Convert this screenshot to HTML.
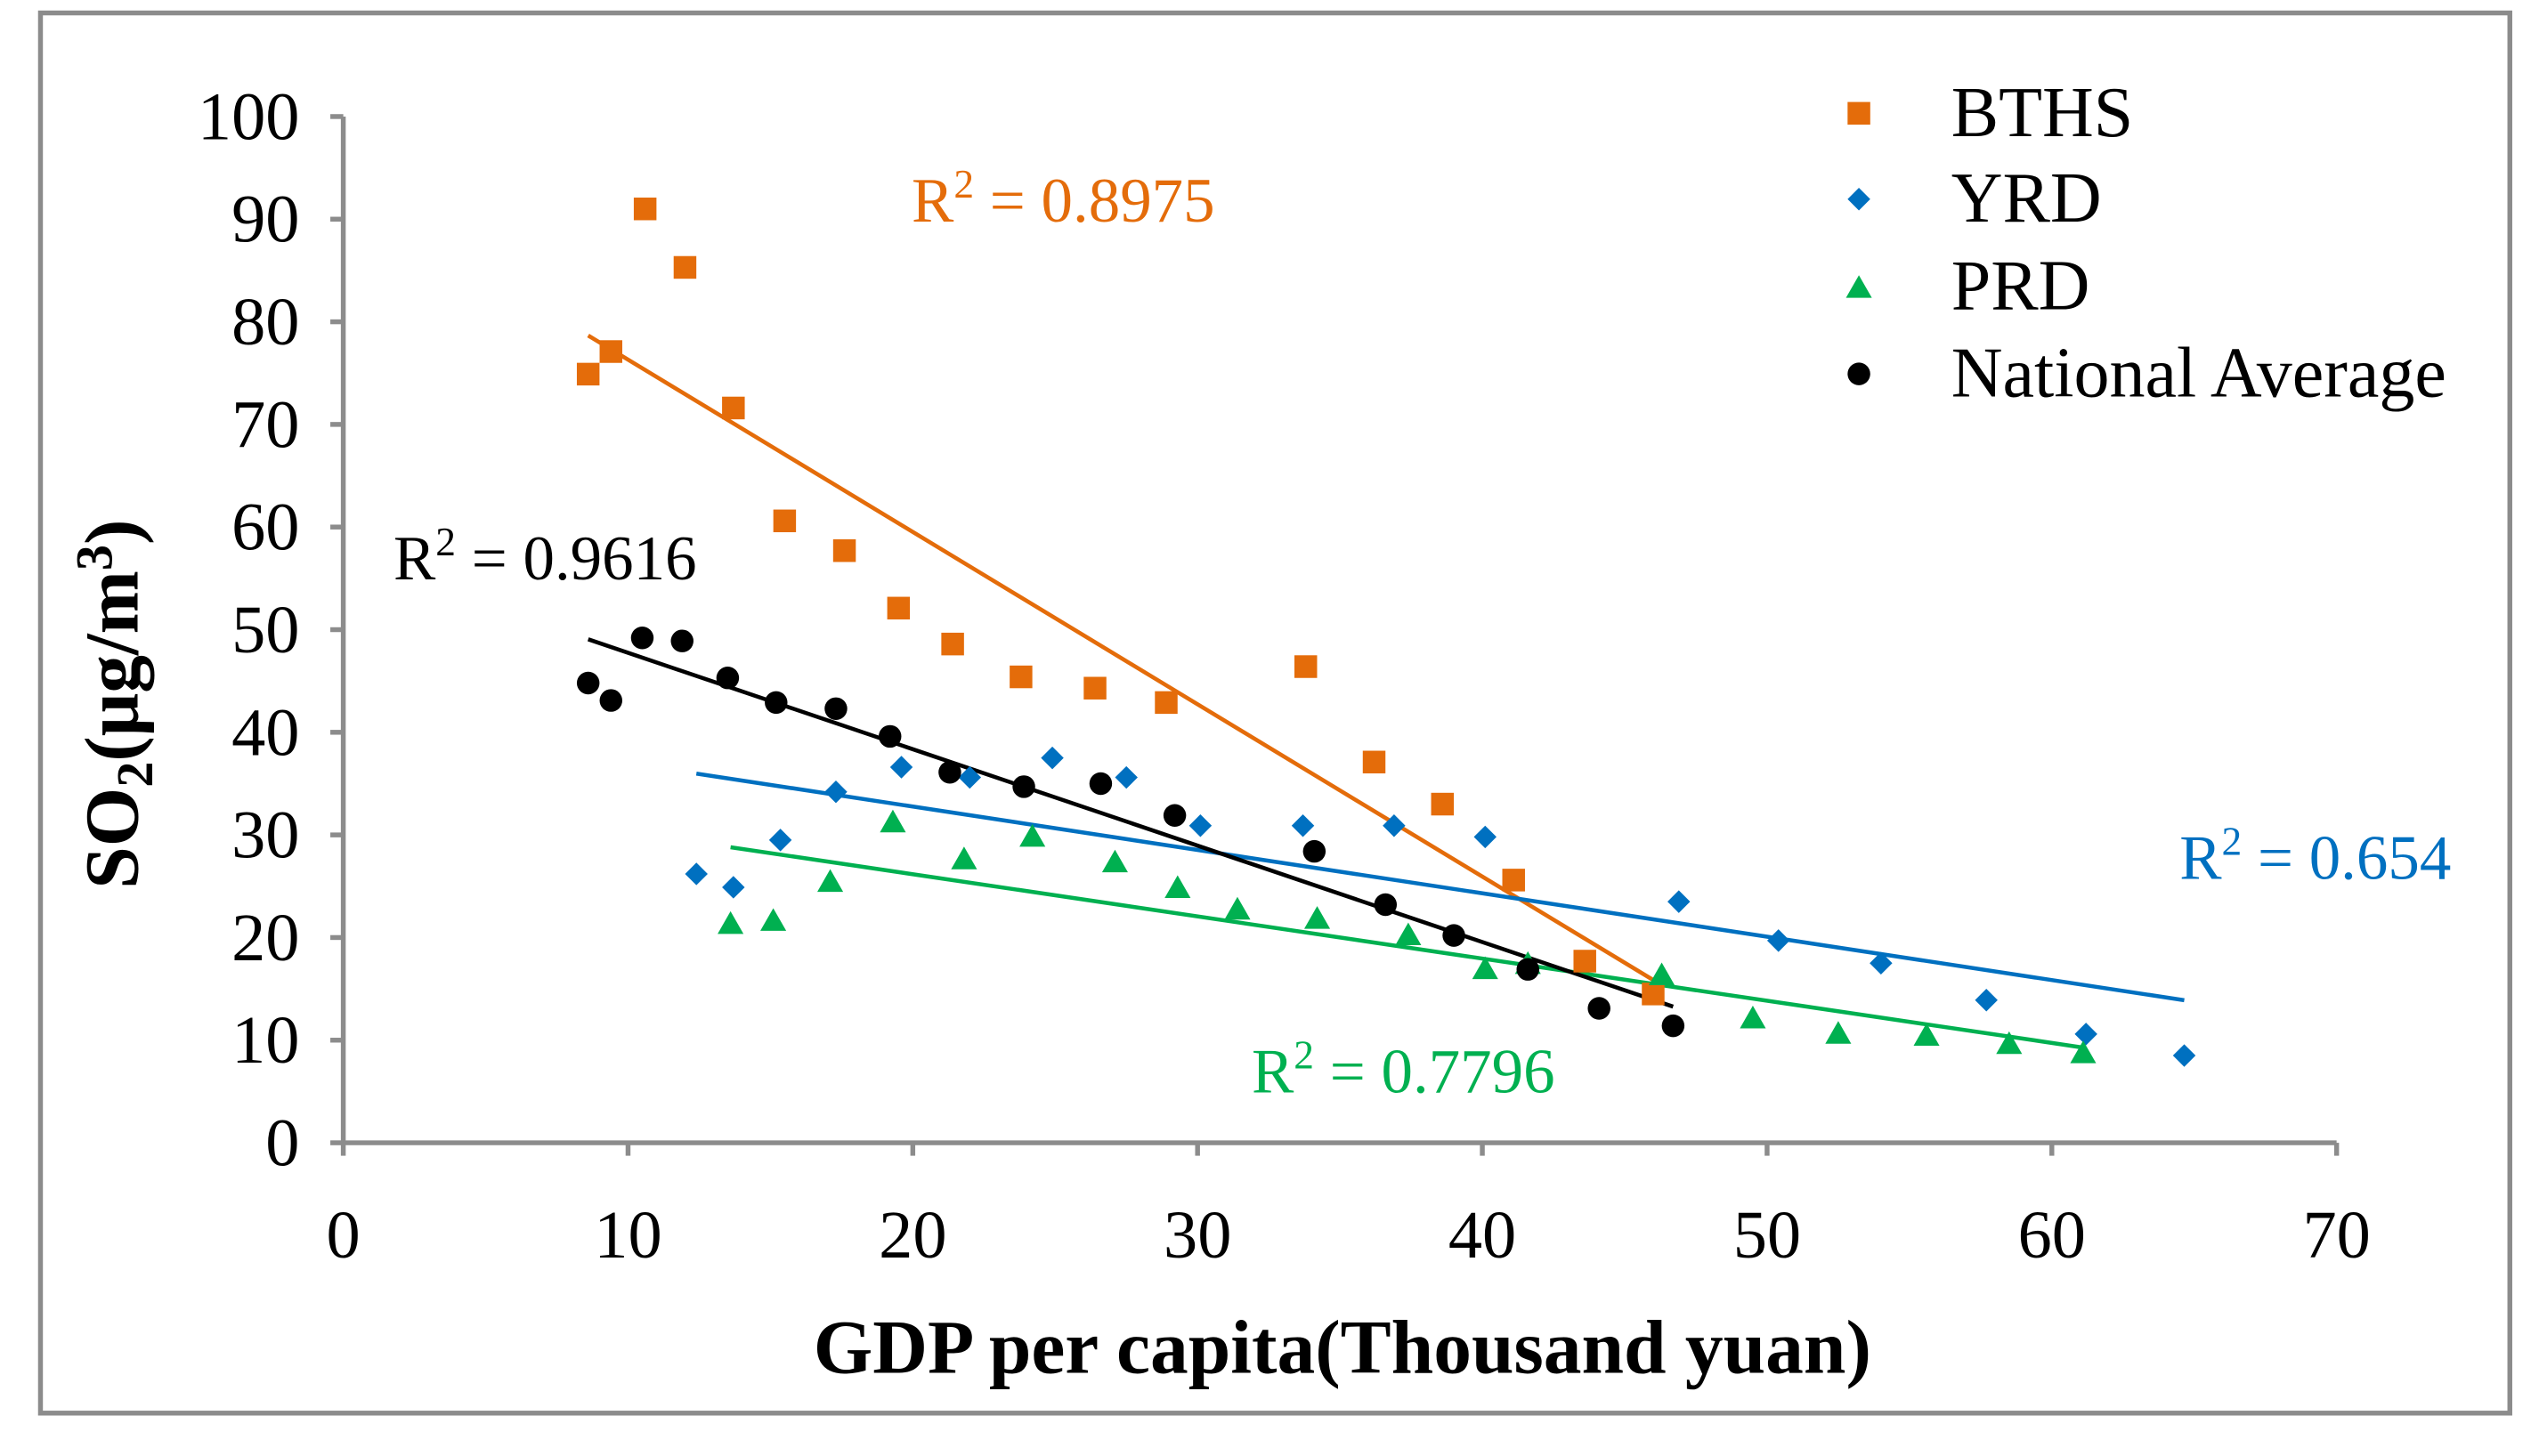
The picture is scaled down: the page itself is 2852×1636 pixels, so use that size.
<!DOCTYPE html>
<html><head><meta charset="utf-8"><style>
html,body{margin:0;padding:0;background:#fff;}
svg{display:block;}
text{font-family:"Liberation Serif",serif;}
</style></head><body>
<svg id="chart" width="2852" height="1636" viewBox="0 0 1568 899.5" preserveAspectRatio="none">
<rect x="25" y="8" width="1525" height="865" fill="#fff" stroke="#8c8c8c" stroke-width="3"/>
<g id="axes"></g>
<g id="marks"></g>
<text x="85" y="435" transform="rotate(-90 85 435)" text-anchor="middle" font-size="47" font-weight="bold">SO<tspan font-size="32" dy="9">2</tspan><tspan dy="-9">(μg/m</tspan><tspan font-size="32" dy="-16">3</tspan><tspan dy="16">)</tspan></text>
<text x="829" y="848" text-anchor="middle" font-size="47" font-weight="bold">GDP per capita(Thousand yuan)</text>
<text x="563" y="137" font-size="39" fill="#E46C0A">R<tspan font-size="25" dy="-15">2</tspan><tspan dy="15"> = 0.8975</tspan></text>
<text x="243" y="358" font-size="39" fill="#000">R<tspan font-size="25" dy="-15">2</tspan><tspan dy="15"> = 0.9616</tspan></text>
<text x="1346" y="543" font-size="39" fill="#0070C0">R<tspan font-size="25" dy="-15">2</tspan><tspan dy="15"> = 0.654</tspan></text>
<text x="773" y="675" font-size="39" fill="#00B050">R<tspan font-size="25" dy="-15">2</tspan><tspan dy="15"> = 0.7796</tspan></text>
<g>
<rect x="1141" y="63" width="14" height="14" fill="#E46C0A"/>
<text x="1205" y="84" font-size="44">BTHS</text>
<path d="M1148 116 L1155 123 L1148 130 L1141 123 Z" fill="#0070C0"/>
<text x="1205" y="137" font-size="44">YRD</text>
<path d="M1148 170 L1156 184 L1140 184 Z" fill="#00B050"/>
<text x="1205" y="191" font-size="44">PRD</text>
<circle cx="1148" cy="231" r="7" fill="#000"/>
<text x="1205" y="245" font-size="44">National Average</text>
</g>
</svg>
<script>
const xTicks=[0,10,20,30,40,50,60,70];
const yTicks=[0,10,20,30,40,50,60,70,80,90,100];
const bthsX=[8.6,9.4,10.6,12.0,13.7,15.5,17.6,19.5,21.4,23.8,26.4,28.9,33.8,36.2,38.6,41.1,43.6,46.0];
const bthsY=[74.9,77.1,91.0,85.3,71.6,60.6,57.7,52.1,48.6,45.4,44.3,42.9,46.4,37.1,33.0,25.6,17.7,14.5];
const yrdX=[12.4,13.7,15.35,17.3,19.6,22.0,24.9,27.5,30.1,33.7,36.9,40.1,46.9,50.4,54.0,57.7,61.2,64.65];
const yrdY=[26.2,24.9,29.5,34.2,36.6,35.6,37.5,35.6,30.9,30.9,30.9,29.8,23.5,19.7,17.5,13.9,10.6,8.5];
const prdX=[13.6,15.1,17.1,19.3,21.8,24.2,27.1,29.3,31.4,34.2,37.4,40.1,41.6,46.3,49.5,52.5,55.6,58.5,61.1];
const prdY=[21.3,21.6,25.4,31.2,27.6,29.8,27.3,24.8,22.7,21.8,20.2,16.9,17.4,16.3,12.1,10.6,10.4,9.6,8.7];
const natX=[8.6,9.4,10.5,11.9,13.5,15.2,17.3,19.2,21.3,23.9,26.6,29.2,34.1,36.6,39.0,41.6,44.1,46.7];
const natY=[44.8,43.1,49.2,48.9,45.3,42.9,42.3,39.6,36.1,34.7,35.0,31.9,28.4,23.2,20.2,16.9,13.1,11.4];

const NS='http://www.w3.org/2000/svg';
const X0=212,X1=1443,Y0=706,Y1=72;
function sx(v){return X0+(v-0)/(70-0)*(X1-X0);}
function sy(v){return Y0-(v-0)/(100-0)*(Y0-Y1);}
function mk(tag,attrs,parent){const e=document.createElementNS(NS,tag);for(const k in attrs)e.setAttribute(k,attrs[k]);parent.appendChild(e);return e;}
const axes=document.getElementById('axes'),marks=document.getElementById('marks');
let e;
e=mk('line',{x1:X0,y1:Y1,x2:X0,y2:Y0,stroke:'#8c8c8c','stroke-width':3},axes);


e=mk('line',{x1:X0,y1:Y0,x2:X1,y2:Y0,stroke:'#8c8c8c','stroke-width':3},axes);


yTicks.forEach(v=>{
  const t=mk('line',{x1:X0-8,y1:sy(v),x2:X0,y2:sy(v),stroke:'#8c8c8c','stroke-width':3},axes);
  
  
  const l=mk('text',{x:185,y:sy(v)+14,'text-anchor':'end','font-size':42},axes);
  l.textContent=v;
  
  
});
xTicks.forEach(v=>{
  const t=mk('line',{x1:sx(v),y1:Y0,x2:sx(v),y2:Y0+8,stroke:'#8c8c8c','stroke-width':3},axes);
  
  
  const l=mk('text',{x:sx(v),y:777,'text-anchor':'middle','font-size':42},axes);
  l.textContent=v;
  
  
});
function fit(xs,ys){const n=xs.length;let mx=0,my=0;for(let i=0;i<n;i++){mx+=xs[i];my+=ys[i];}mx/=n;my/=n;let sxy=0,sxx=0;for(let i=0;i<n;i++){sxy+=(xs[i]-mx)*(ys[i]-my);sxx+=(xs[i]-mx)**2;}const b=sxy/sxx;return [b,my-b*mx];}
function trend(xs,ys,color,name){
  const [b,a]=fit(xs,ys);const lo=Math.min(...xs),hi=Math.max(...xs);
  const l=mk('line',{x1:sx(lo),y1:sy(a+b*lo),x2:sx(hi),y2:sy(a+b*hi),stroke:color,'stroke-width':2.5},marks);
  
  
}
trend(bthsX,bthsY,'#E46C0A','trendline-bths');
trend(yrdX,yrdY,'#0070C0','trendline-yrd');
trend(prdX,prdY,'#00B050','trendline-prd');
trend(natX,natY,'#000','trendline-national');
bthsX.forEach((x,i)=>{const cx=sx(x),cy=sy(bthsY[i]);
  const m=mk('rect',{x:cx-7,y:cy-7,width:14,height:14,fill:'#E46C0A'},marks);
  
  });
yrdX.forEach((x,i)=>{const cx=sx(x),cy=sy(yrdY[i]);
  const m=mk('path',{d:`M${cx} ${cy-7}L${cx+7} ${cy}L${cx} ${cy+7}L${cx-7} ${cy}Z`,fill:'#0070C0'},marks);
  
  });
prdX.forEach((x,i)=>{const cx=sx(x),cy=sy(prdY[i]);
  const m=mk('path',{d:`M${cx} ${cy-8}L${cx+8} ${cy+6}L${cx-8} ${cy+6}Z`,fill:'#00B050'},marks);
  
  });
natX.forEach((x,i)=>{const cx=sx(x),cy=sy(natY[i]);
  const m=mk('circle',{cx:cx,cy:cy,r:7,fill:'#000'},marks);
  
  });
</script>
</body></html>
